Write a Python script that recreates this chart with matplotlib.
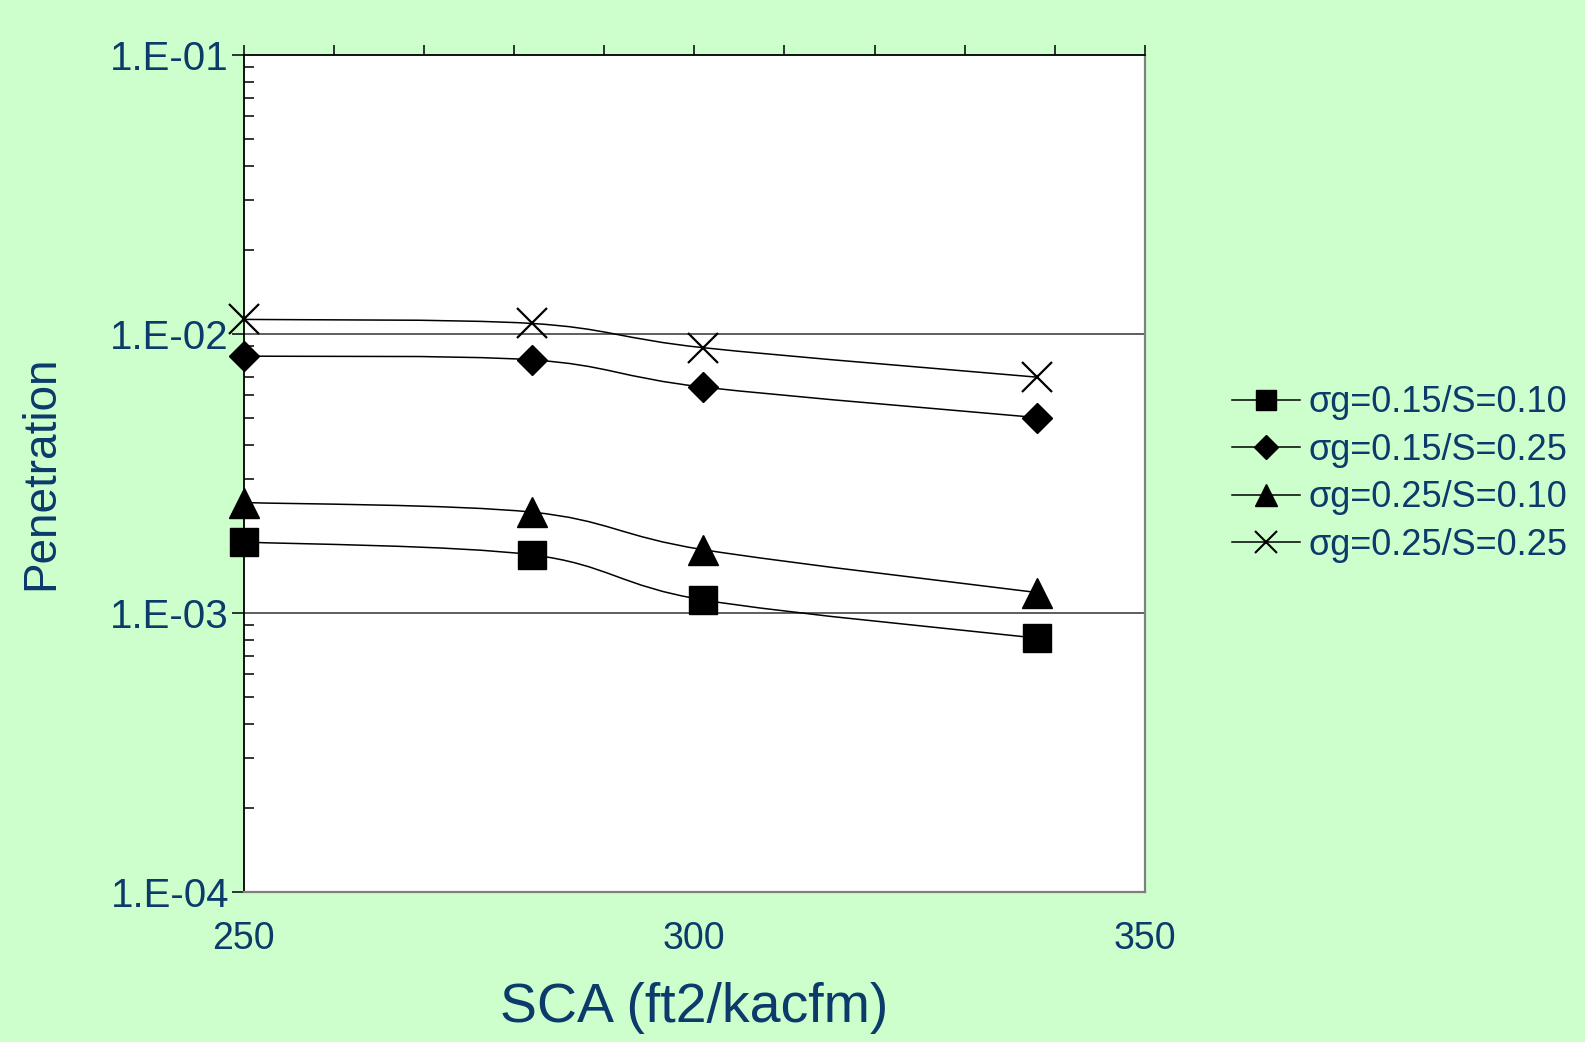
import matplotlib
matplotlib.use("Agg")
import numpy as np
import matplotlib.pyplot as plt
from matplotlib.ticker import FixedLocator, LogLocator, NullFormatter, FixedFormatter
from matplotlib.path import Path
from matplotlib.patches import PathPatch
from matplotlib.lines import Line2D

# ---- data ----
sca = [250, 282, 301, 338]
labels = ["σg=0.15/S=0.10", "σg=0.15/S=0.25", "σg=0.25/S=0.10", "σg=0.25/S=0.25"]
s015_010 = [0.00179, 0.00161, 0.00111, 0.00081]
s015_025 = [0.0083, 0.00805, 0.00643, 0.0050]
s025_010 = [0.00248, 0.00229, 0.00168, 0.00118]
s025_025 = [0.01124, 0.01087, 0.0089, 0.00698]
series = [s015_010, s015_025, s025_010, s025_025]
markers = ["s", "D", "^", "x"]
msizes = [20, 15, 21, 21]
leg_sizes = [15, 12, 16, 16]
yticks = [1e-4, 1e-3, 1e-2, 1e-1]
ytick_labels = ["1.E-04", "1.E-03", "1.E-02", "1.E-01"]
xticks = [250, 300, 350]

TXT = "#0B3A6B"
BG = "#CCFFCC"
plt.rcParams["font.family"] = ["Liberation Sans", "DejaVu Sans"]


def smooth_path(xs, ys):
    """Excel-style smoothed line: cubic Bezier through the points,
    computed in (x, log10 y) space."""
    px = np.asarray(xs, float)
    py = np.log10(np.asarray(ys, float))
    n = len(px)
    verts = [(px[0], py[0])]
    codes = [Path.MOVETO]
    for i in range(n - 1):
        i0 = max(i - 1, 0)
        i3 = min(i + 2, n - 1)
        c1 = (px[i] + (px[i + 1] - px[i0]) / 6, py[i] + (py[i + 1] - py[i0]) / 6)
        c2 = (px[i + 1] - (px[i3] - px[i]) / 6, py[i + 1] - (py[i3] - py[i]) / 6)
        verts += [c1, c2, (px[i + 1], py[i + 1])]
        codes += [Path.CURVE4] * 3
    v = np.array(verts)
    v[:, 1] = 10 ** v[:, 1]
    return Path(v, codes)


fig = plt.figure(figsize=(15.85, 10.42), dpi=100, facecolor=BG)
ax = fig.add_axes([0.1537, 0.1444, 0.7224 - 0.1537, 0.9476 - 0.1444])
ax.set_facecolor("white")
ax.set_yscale("log")
ax.set_xlim(250, 350)
ax.set_ylim(1e-4, 1e-1)

for yv in [1e-3, 1e-2]:
    ax.axhline(yv, color="#333333", lw=1.1, zorder=1)

for vals, m, ms in zip(series, markers, msizes):
    ax.add_patch(PathPatch(smooth_path(sca, vals), facecolor="none",
                           edgecolor="black", lw=1.1, zorder=2))
    mew = 1.6 if m == "x" else 1
    ax.plot(sca, vals, linestyle="none", marker=m, ms=ms,
            markerfacecolor="black", markeredgecolor="black", mew=mew,
            clip_on=False, zorder=3)

handles = []
for m, ms in zip(markers, leg_sizes):
    handles.append(Line2D([], [], color="black", lw=1.1, marker=m, ms=ms,
                          markerfacecolor="black", markeredgecolor="black",
                          mew=1.5 if m == "x" else 1))
fig.legend(handles, labels, loc="center left", bbox_to_anchor=(0.768, 0.545),
           frameon=False, fontsize=26, labelcolor=TXT, handlelength=1.9,
           handletextpad=0.22, labelspacing=0.35, borderaxespad=0)

# spines
for s in ["left", "top"]:
    ax.spines[s].set_color("black")
    ax.spines[s].set_linewidth(1.3)
for s in ["right", "bottom"]:
    ax.spines[s].set_color("#7f7f7f")
    ax.spines[s].set_linewidth(1.6)

# y ticks
ax.yaxis.set_major_locator(FixedLocator(yticks))
ax.yaxis.set_major_formatter(FixedFormatter(ytick_labels))
ax.yaxis.set_minor_locator(LogLocator(base=10, subs=range(2, 10)))
ax.yaxis.set_minor_formatter(NullFormatter())
ax.tick_params(axis="y", which="major", direction="out", length=8.6, width=1.1,
               labelsize=29, labelcolor=TXT, pad=2)
ax.tick_params(axis="y", which="minor", direction="in", length=7, width=1.1)

# x ticks: labels at bottom, tick marks on top
ax.xaxis.set_major_locator(FixedLocator(xticks))
ax.xaxis.set_minor_locator(FixedLocator(range(250, 351, 10)))
ax.tick_params(axis="x", which="both", bottom=False, top=True, labelbottom=True,
               direction="out", length=7, width=1.1, labelsize=27,
               labelcolor=TXT, pad=14)

ax.set_ylabel("Penetration", fontsize=33, color=TXT, labelpad=34)
ax.set_xlabel("SCA (ft2/kacfm)", fontsize=40, color=TXT, labelpad=18)

fig.savefig("out.png", dpi=100, facecolor=BG)
